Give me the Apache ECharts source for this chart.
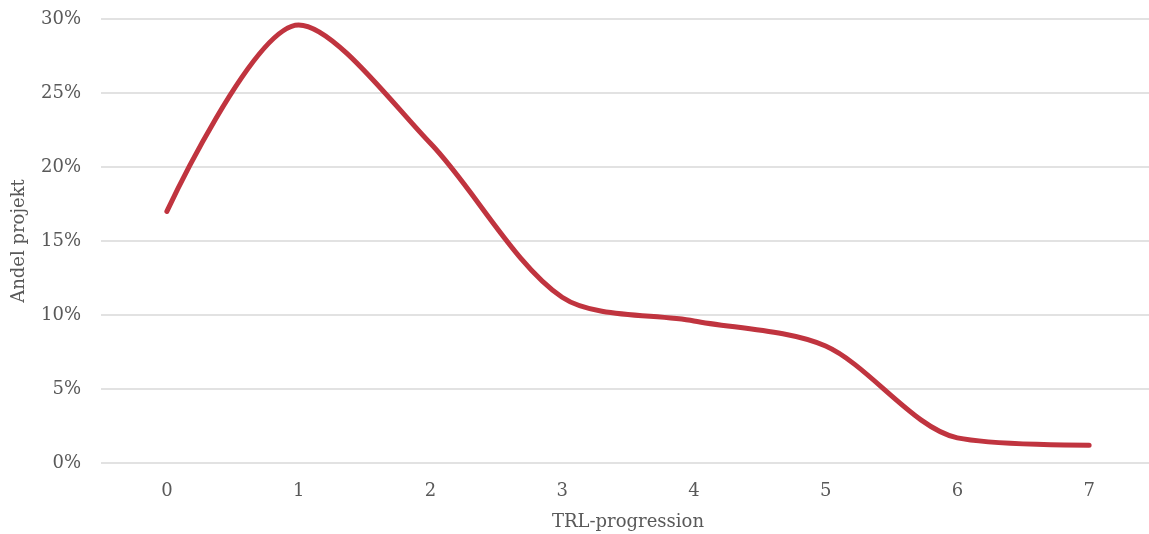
<!DOCTYPE html>
<html>
<head>
<meta charset="utf-8">
<script src="https://cdn.jsdelivr.net/npm/echarts@6/dist/echarts.min.js"></script>
<style>
html,body{margin:0;padding:0;background:#fff;}
#chart{width:1149px;height:534px;}
</style>
</head>
<body>
<div id="chart"></div>
<script>
const categories = ['0','1','2','3','4','5','6','7'];
const shares = [17.0, 29.6, 21.6, 11.2, 9.6, 7.9, 1.7, 1.2];
const yTicks = [0, 5, 10, 15, 20, 25, 30];

const FONT = 'DejaVu Serif';
const chart = echarts.init(document.getElementById('chart'), null, {renderer: 'canvas'});
chart.setOption({
  animation: false,
  backgroundColor: '#ffffff',
  grid: {left: 101, width: 1054, top: 19, bottom: 71, outerBoundsMode: 'none', containLabel: false},
  xAxis: {
    type: 'category',
    data: categories,
    boundaryGap: true,
    name: 'TRL-progression',
    nameLocation: 'middle',
    nameGap: 50,
    nameTextStyle: {fontFamily: FONT, fontSize: 18, color: '#595959'},
    axisLine: {show: false},
    axisTick: {show: false},
    axisLabel: {fontFamily: FONT, fontSize: 18, color: '#595959', margin: 19}
  },
  yAxis: {
    type: 'value',
    min: yTicks[0],
    max: yTicks[yTicks.length - 1],
    interval: 5,
    name: 'Andel projekt',
    nameLocation: 'middle',
    nameGap: 73,
    nameRotate: 90,
    nameTextStyle: {fontFamily: FONT, fontSize: 18, color: '#595959'},
    axisLine: {show: false},
    axisTick: {show: false},
    axisLabel: {fontFamily: FONT, fontSize: 18, color: '#595959', margin: 20, formatter: v => v + '%'},
    splitLine: {lineStyle: {color: '#d9d9d9', width: 1.5}}
  },
  series: [{
    type: 'line',
    data: shares,
    smooth: 0.3,
    symbol: 'none',
    lineStyle: {color: '#c0343f', width: 5, cap: 'round'}
  }]
});
</script>
</body>
</html>
